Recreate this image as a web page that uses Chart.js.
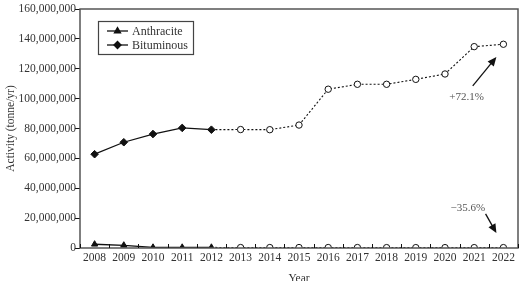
<!DOCTYPE html>
<html>
<head>
<meta charset="utf-8">
<script src="https://cdn.jsdelivr.net/npm/chart.js@4/dist/chart.umd.min.js"></script>
<style>
  html, body { margin: 0; padding: 0; background: #fff; overflow: hidden; }
</style>
</head>
<body>
<canvas id="coalChart" width="523" height="281"></canvas>
<script>
const years = ["2008", "2009", "2010", "2011", "2012", "2013", "2014", "2015",
  "2016", "2017", "2018", "2019", "2020", "2021", "2022"];
const anthracite = [2500000, 1800000, 400000, 400000, 400000, 300000, 300000, 300000,
  300000, 300000, 250000, 250000, 250000, 250000, 260000];
const bituminous = [62800000, 70800000, 76300000, 80400000, 79200000, 79300000, 79200000, 82300000,
  106300000, 109600000, 109600000, 112900000, 116500000, 134800000, 136400000];
const lastReported = 4; // 2012: after this the series is projected
const yTicks = [0, 20000000, 40000000, 60000000, 80000000, 100000000, 120000000, 140000000, 160000000];
const notes = [
  { text: "+72.1%", at: [12.74, 101000000], from: [12.95, 108500000], to: [13.76, 127900000] },
  { text: "\u221235.6%", at: [12.78, 27000000], from: [13.39, 22800000], to: [13.76, 10000000] }
];

const serif = "'Liberation Serif', 'Times New Roman', serif";
const ink = "#111";
const textInk = "#333";

function markerStyles(style) {
  return years.map((_, i) => (i <= lastReported ? style : "circle"));
}
function markerFills() {
  return years.map((_, i) => (i <= lastReported ? ink : "#fff"));
}
function markerSizes(r) {
  return years.map((_, i) => (i <= lastReported ? r : 3.2));
}

const projected = {
  borderDash: (ctx) => (ctx.p0DataIndex >= lastReported ? [2, 2] : undefined),
  borderWidth: (ctx) => (ctx.p0DataIndex >= lastReported ? 1.1 : 1.3)
};

const framePlugin = {
  id: "frame",
  afterDatasetsDraw(chart) {
    const { ctx, chartArea: a, scales } = chart;
    ctx.save();
    ctx.strokeStyle = "#555";
    ctx.lineWidth = 1.5;
    ctx.strokeRect(a.left, a.top, a.right - a.left, a.bottom - a.top);

    // little inward ticks between the years
    ctx.strokeStyle = ink;
    ctx.lineWidth = 1;
    const x = scales.x;
    for (let i = 0; i <= years.length; i++) {
      const px = Math.round(x.getPixelForValue(i - 0.5)) + 0.5;
      ctx.beginPath();
      ctx.moveTo(px, a.bottom);
      ctx.lineTo(px, a.bottom - 4);
      ctx.stroke();
    }

    // legend box
    const lx = a.left + 18, ly = a.top + 12, lw = 95, lh = 33;
    ctx.fillStyle = "#fff";
    ctx.fillRect(lx, ly, lw, lh);
    ctx.strokeStyle = "#444";
    ctx.lineWidth = 1.2;
    ctx.strokeRect(lx + 0.5, ly + 0.5, lw, lh);
    const rows = [
      { label: "Anthracite", style: "triangle", r: 3.5 },
      { label: "Bituminous", style: "rectRot", r: 3.5 }
    ];
    ctx.font = "12px " + serif;
    ctx.textBaseline = "middle";
    rows.forEach((row, i) => {
      const cy = ly + 10 + i * 14;
      ctx.strokeStyle = ink;
      ctx.lineWidth = 1.3;
      ctx.beginPath();
      ctx.moveTo(lx + 9, cy);
      ctx.lineTo(lx + 30, cy);
      ctx.stroke();
      ctx.fillStyle = ink;
      Chart.helpers.drawPoint(ctx, { pointStyle: row.style, radius: row.r, borderWidth: 1 }, lx + 19.5, cy);
      ctx.fillStyle = textInk;
      ctx.textAlign = "left";
      ctx.fillText(row.label, lx + 34, cy + 0.5);
    });

    // percentage notes with arrows
    const y = scales.y;
    notes.forEach((n) => {
      const x0 = x.getPixelForValue(n.from[0]), y0 = y.getPixelForValue(n.from[1]);
      const x1 = x.getPixelForValue(n.to[0]), y1 = y.getPixelForValue(n.to[1]);
      const ang = Math.atan2(y1 - y0, x1 - x0);
      ctx.strokeStyle = ink;
      ctx.fillStyle = ink;
      ctx.lineWidth = 1.3;
      ctx.beginPath();
      ctx.moveTo(x0, y0);
      ctx.lineTo(x1 - 6 * Math.cos(ang), y1 - 6 * Math.sin(ang));
      ctx.stroke();
      ctx.beginPath();
      ctx.moveTo(x1, y1);
      ctx.lineTo(x1 - 9 * Math.cos(ang) + 4 * Math.sin(ang), y1 - 9 * Math.sin(ang) - 4 * Math.cos(ang));
      ctx.lineTo(x1 - 9 * Math.cos(ang) - 4 * Math.sin(ang), y1 - 9 * Math.sin(ang) + 4 * Math.cos(ang));
      ctx.closePath();
      ctx.fill();
      ctx.fillStyle = "#555";
      ctx.font = "11px " + serif;
      ctx.textAlign = "center";
      ctx.fillText(n.text, x.getPixelForValue(n.at[0]), y.getPixelForValue(n.at[1]));
    });
    ctx.restore();
  }
};

new Chart(document.getElementById("coalChart"), {
  type: "line",
  data: {
    labels: years,
    datasets: [
      {
        label: "Anthracite",
        data: anthracite,
        borderColor: ink,
        pointStyle: markerStyles("triangle"),
        pointRadius: markerSizes(3.6),
        pointBackgroundColor: markerFills(),
        pointBorderColor: ink,
        pointBorderWidth: 1,
        segment: projected,
        tension: 0
      },
      {
        label: "Bituminous",
        data: bituminous,
        borderColor: ink,
        pointStyle: markerStyles("rectRot"),
        pointRadius: markerSizes(3.8),
        pointBackgroundColor: markerFills(),
        pointBorderColor: ink,
        pointBorderWidth: 1,
        segment: projected,
        tension: 0
      }
    ]
  },
  options: {
    responsive: false,
    animation: false,
    devicePixelRatio: 1,
    layout: { padding: { top: 9, right: 2, left: 0, bottom: 0 } },
    plugins: {
      legend: { display: false },
      tooltip: { enabled: false },
      title: { display: false }
    },
    scales: {
      x: {
        offset: true,
        grid: { display: false, drawTicks: false },
        border: { display: false },
        ticks: { color: textInk, font: { family: serif, size: 11.5 }, padding: 3, maxRotation: 0, autoSkip: false },
        title: { display: true, text: "Year", color: textInk, font: { family: serif, size: 11.5 }, padding: { top: 2, bottom: -5 } },
        afterFit: (scale) => { scale.height = 33; }
      },
      y: {
        min: 0,
        max: 160000000,
        afterBuildTicks: (scale) => { scale.ticks = yTicks.map((v) => ({ value: v })); },
        grid: { drawOnChartArea: false, drawTicks: true, tickLength: 5, color: ink },
        border: { display: false },
        ticks: {
          color: textInk,
          font: { family: serif, size: 11.5 },
          padding: -1,
          callback: (v) => v.toLocaleString("en-US")
        },
        title: { display: true, text: "Activity (tonne/yr)", color: textInk, font: { family: serif, size: 11.5 }, padding: { top: 4, bottom: 2 } },
        afterFit: (scale) => { scale.width = 80; }
      }
    }
  },
  plugins: [framePlugin]
});
</script>
</body>
</html>
